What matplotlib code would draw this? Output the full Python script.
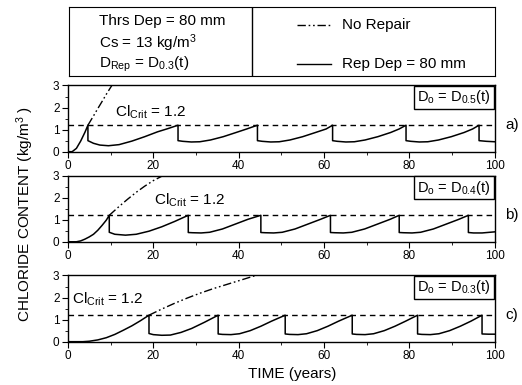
import matplotlib
matplotlib.use("Agg")
import matplotlib.pyplot as plt
from matplotlib.ticker import MultipleLocator

plt.rcParams['font.family'] = ['Liberation Sans', 'DejaVu Sans']
plt.rcParams['mathtext.fontset'] = 'custom'
plt.rcParams['mathtext.rm'] = 'Liberation Sans'
plt.rcParams['mathtext.default'] = 'regular'

# critical chloride content
cl_crit = 1.2

# panel a) D_o = D_0.5(t) -- repaired profile
time_a = [0, 1.0, 2.0, 3.0, 4.0, 4.7,
          4.7, 6.0, 7.5, 9.5, 12.0, 15.0, 18.0, 21.0, 23.5, 25.8,
          25.8, 26.9, 28.9, 30.9, 33.4, 36.4, 39.4, 41.9, 44.4,
          44.4, 45.5, 47.5, 49.5, 52.0, 55.0, 58.0, 60.5, 62.0,
          62.0, 63.1, 65.1, 67.1, 69.6, 72.6, 75.6, 77.6, 79.2,
          79.2, 80.3, 82.3, 84.3, 86.8, 89.8, 92.8, 94.8, 96.3,
          96.3, 98.0, 100.0]
chl_a = [0, 0, 0.15, 0.48, 0.88, 1.2,
         0.5, 0.38, 0.3, 0.27, 0.32, 0.48, 0.68, 0.9, 1.05, 1.2,
         0.5, 0.47, 0.44, 0.45, 0.53, 0.68, 0.87, 1.03, 1.2,
         0.5, 0.47, 0.44, 0.45, 0.53, 0.68, 0.87, 1.03, 1.2,
         0.5, 0.47, 0.44, 0.45, 0.53, 0.68, 0.87, 1.03, 1.2,
         0.5, 0.47, 0.44, 0.45, 0.53, 0.68, 0.87, 1.03, 1.2,
         0.5, 0.47, 0.45]
norep_time_a = [4.7, 6.0, 7.0, 8.0, 9.0, 10.3]
norep_chl_a = [1.2, 1.62, 1.95, 2.27, 2.6, 3.0]

# panel b) D_o = D_0.4(t)
time_b = [0, 2.0, 3.0, 4.0, 5.0, 6.0, 7.0, 8.0, 9.0, 9.7,
          9.7, 11.0, 13.5, 16.0, 19.0, 22.0, 25.0, 28.2,
          28.2, 29.2, 31.2, 33.2, 36.2, 39.2, 42.2, 45.2,
          45.2, 46.2, 48.2, 50.2, 53.2, 56.2, 59.2, 61.5,
          61.5, 62.5, 64.5, 66.5, 69.5, 72.5, 75.5, 77.6,
          77.6, 78.6, 80.6, 82.6, 85.6, 88.6, 91.6, 93.8,
          93.8, 95.0, 97.0, 100.0]
chl_b = [0, 0, 0.04, 0.12, 0.22, 0.34, 0.52, 0.74, 0.98, 1.2,
         0.43, 0.34, 0.3, 0.34, 0.48, 0.68, 0.92, 1.2,
         0.42, 0.41, 0.4, 0.43, 0.58, 0.8, 1.02, 1.2,
         0.42, 0.41, 0.4, 0.43, 0.58, 0.8, 1.02, 1.2,
         0.42, 0.41, 0.4, 0.43, 0.58, 0.8, 1.02, 1.2,
         0.42, 0.41, 0.4, 0.43, 0.58, 0.8, 1.02, 1.2,
         0.42, 0.4, 0.4, 0.45]
norep_time_b = [9.7, 12.0, 14.0, 16.0, 18.0, 20.0, 22.3]
norep_chl_b = [1.2, 1.6, 1.93, 2.24, 2.52, 2.77, 3.0]

# panel c) D_o = D_0.3(t)
time_c = [0, 3.5, 5.0, 7.0, 9.0, 11.0, 13.0, 15.0, 17.0, 19.0,
          19.0, 20.0, 22.0, 24.0, 26.5, 29.0, 32.0, 35.2,
          35.2, 36.2, 38.2, 40.2, 42.7, 45.2, 47.7, 50.9,
          50.9, 51.9, 53.9, 55.9, 58.4, 60.9, 63.4, 66.6,
          66.6, 67.6, 69.6, 71.6, 74.1, 76.6, 79.1, 81.9,
          81.9, 82.9, 84.9, 86.9, 89.4, 91.9, 94.4, 97.0,
          97.0, 98.5, 100.0]
chl_c = [0, 0, 0.02, 0.08, 0.18, 0.33, 0.52, 0.72, 0.95, 1.2,
         0.37, 0.32, 0.29, 0.3, 0.42, 0.6, 0.88, 1.2,
         0.35, 0.33, 0.32, 0.36, 0.5, 0.7, 0.93, 1.2,
         0.35, 0.33, 0.32, 0.36, 0.5, 0.7, 0.93, 1.2,
         0.35, 0.33, 0.32, 0.36, 0.5, 0.7, 0.93, 1.2,
         0.35, 0.33, 0.32, 0.36, 0.5, 0.7, 0.93, 1.2,
         0.35, 0.34, 0.34]
norep_time_c = [19.0, 22.0, 25.0, 28.0, 31.0, 34.0, 37.0, 40.0, 44.0]
norep_chl_c = [1.2, 1.48, 1.74, 1.98, 2.2, 2.4, 2.58, 2.76, 3.0]

panels = [
    (time_a, chl_a, norep_time_a, norep_chl_a, '0.5', 'a)', (11, 1.8)),
    (time_b, chl_b, norep_time_b, norep_chl_b, '0.4', 'b)', (20.2, 1.9)),
    (time_c, chl_c, norep_time_c, norep_chl_c, '0.3', 'c)', (1.0, 1.9)),
]

dashdotdot = (0, (6, 2, 1.2, 2, 1.2, 2))

fig = plt.figure(figsize=(5.22, 3.85), dpi=100)

bottoms = [0.606, 0.372, 0.1125]
for (t, c, tn, cn, dsub, tag, txy), b in zip(panels, bottoms):
    ax = fig.add_axes([0.130, b, 0.818, 0.172])
    ax.plot(t, c, color='black', lw=1.1)
    ax.plot(tn, cn, color='black', lw=1.0, linestyle=dashdotdot)
    ax.axhline(cl_crit, color='black', lw=1.0, linestyle=(0, (4, 3)))
    ax.set_xlim(0, 100)
    ax.set_ylim(0, 3)
    ax.xaxis.set_major_locator(MultipleLocator(20))
    ax.xaxis.set_minor_locator(MultipleLocator(10))
    ax.yaxis.set_major_locator(MultipleLocator(1))
    ax.yaxis.set_minor_locator(MultipleLocator(0.5))
    ax.tick_params(which='both', direction='out', top=False, right=False,
                   labelsize=8.5, pad=2)
    ax.tick_params(which='major', length=4)
    ax.tick_params(which='minor', length=2.5)
    for s in ax.spines.values():
        s.set_linewidth(1.0)
    ax.text(txy[0], txy[1], r'Cl$_{Crit}$ = 1.2', fontsize=11, va='center')
    ax.text(0.99, 0.955, r'D$_o$ = D$_{%s}$(t)' % dsub, transform=ax.transAxes,
            ha='right', va='top', fontsize=10.5,
            bbox=dict(boxstyle='square,pad=0.2', fc='white', ec='black', lw=1.0))
    ax.text(1.025, 0.40, tag, transform=ax.transAxes, fontsize=11, va='center')

# header box with parameters and line key
hx = fig.add_axes([69 / 522, 1 - 76 / 385, 426 / 522, 69 / 385])
hx.set_xlim(0, 1)
hx.set_ylim(0, 1)
hx.set_xticks([])
hx.set_yticks([])
hx.axvline(0.43, color='black', lw=1.0)
hx.text(0.07, 0.80, 'Thrs Dep = 80 mm', fontsize=11, va='center')
hx.text(0.07, 0.48, r'Cs = 13 kg/m$^3$', fontsize=11, va='center')
hx.text(0.07, 0.17, r'D$_{Rep}$ = D$_{0.3}$(t)', fontsize=11, va='center')
hx.plot([0.535, 0.615], [0.74, 0.74], color='black', lw=1.0, linestyle=dashdotdot)
hx.text(0.64, 0.74, 'No Repair', fontsize=11, va='center')
hx.plot([0.535, 0.615], [0.18, 0.18], color='black', lw=1.0)
hx.text(0.64, 0.18, 'Rep Dep = 80 mm', fontsize=11, va='center')

fig.text(0.048, 0.445, r'CHLORIDE CONTENT (kg/m$^3$ )', rotation=90,
         ha='center', va='center', fontsize=11)
fig.text(0.56, 0.028, 'TIME (years)', ha='center', va='center', fontsize=11)

fig.savefig('out.png', dpi=100)
